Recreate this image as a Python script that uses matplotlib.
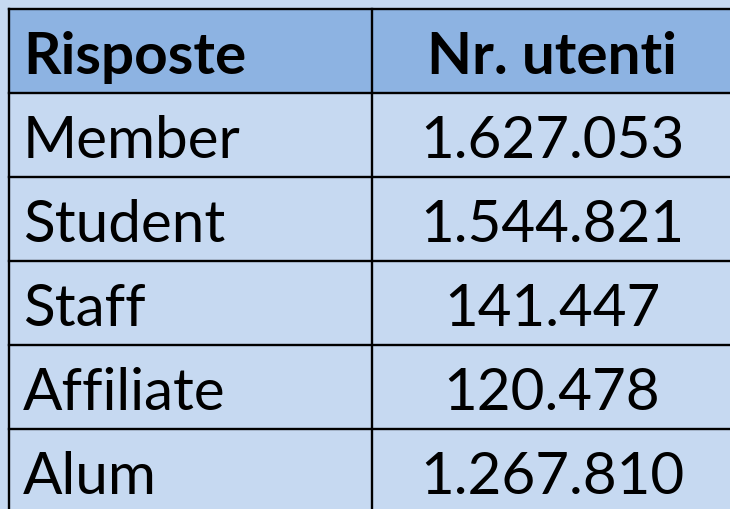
import matplotlib
matplotlib.use("Agg")
import matplotlib.pyplot as plt
from matplotlib.patches import Rectangle

headers = ["Risposte", "Nr. utenti"]
categories = ["Member", "Student", "Staff", "Affiliate", "Alum"]
values = ["1.627.053", "1.544.821", "141.447", "120.478", "1.267.810"]

W, H = 730, 509
fig = plt.figure(figsize=(W / 100, H / 100), dpi=100)
fig.patch.set_facecolor("#c6d9f1")
ax = fig.add_axes([0, 0, 1, 1])
ax.set_xlim(0, W)
ax.set_ylim(H, 0)
ax.axis("off")

x0, xmid, x1 = 9, 372, 736
y0 = 9
row_h = 84
header_col = "#8db3e2"
body_col = "#c6d9f1"

nrows = len(categories) + 1
ax.add_patch(Rectangle((x0, y0), x1 - x0, row_h, facecolor=header_col, edgecolor="none"))
ax.add_patch(Rectangle((x0, y0 + row_h), x1 - x0, row_h * (nrows - 1), facecolor=body_col, edgecolor="none"))

lw = 1.7
for i in range(nrows + 1):
    y = y0 + i * row_h
    ax.plot([x0, x1], [y, y], color="black", lw=lw, solid_capstyle="projecting")
for x in (x0, xmid, x1):
    ax.plot([x, x], [y0, y0 + nrows * row_h], color="black", lw=lw, solid_capstyle="projecting")

font = "Lato"
fs = 42
ax.text(x0 + 14, y0 + row_h / 2 + 1, headers[0], fontsize=fs, fontweight="bold",
        family=font, va="center_baseline", ha="left")
ax.text((xmid + x1) / 2 - 2, y0 + row_h / 2 + 1, headers[1], fontsize=fs, fontweight="bold",
        family=font, va="center_baseline", ha="center")
for i, (c, v) in enumerate(zip(categories, values)):
    yc = y0 + (i + 1.5) * row_h + 1
    ax.text(x0 + 14, yc, c, fontsize=fs, family=font, va="center_baseline", ha="left")
    ax.text((xmid + x1) / 2 - 2, yc, v, fontsize=fs, family=font, va="center_baseline", ha="center")

fig.savefig("out.png", dpi=100, facecolor=fig.get_facecolor())
